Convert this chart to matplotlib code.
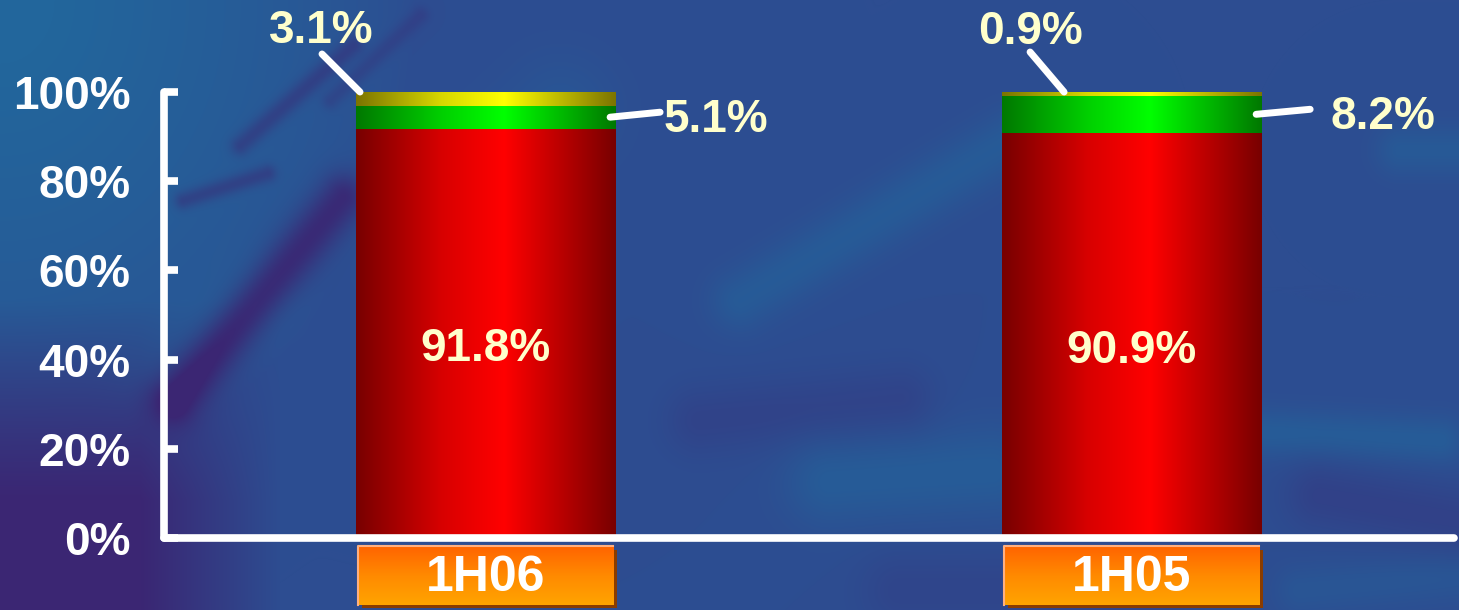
import numpy as np
import matplotlib
matplotlib.use("Agg")
import matplotlib.pyplot as plt
from matplotlib.colors import LinearSegmentedColormap, to_rgb
from matplotlib.patches import Rectangle

# shares of each half-year, stacked bottom to top
periods = ["1H06", "1H05"]
share_main = [91.8, 90.9]
share_mid = [5.1, 8.2]
share_top = [3.1, 0.9]
y_ticks = [0, 20, 40, 60, 80, 100]
y_tick_labels = ["0%", "20%", "40%", "60%", "80%", "100%"]

plt.rcParams["font.family"] = ["Liberation Sans", "DejaVu Sans"]
plt.rcParams["font.weight"] = "bold"

W, H, DPI = 1459, 610, 100
fig = plt.figure(figsize=(W / DPI, H / DPI), dpi=DPI)

# textured blue backdrop built from soft streaks
bg = fig.add_axes([0, 0, 1, 1], zorder=0)
yy, xx = np.mgrid[0:H, 0:W].astype(float)


def streak(x0, y0, x1, y1, w):
    dx, dy = x1 - x0, y1 - y0
    t = np.clip(((xx - x0) * dx + (yy - y0) * dy) / (dx * dx + dy * dy), 0, 1)
    d = np.hypot(xx - (x0 + t * dx), yy - (y0 + t * dy))
    return np.exp(-(d / w) ** 2)


base = np.array(to_rgb("#2d4d91"))
teal = np.array(to_rgb("#22669c"))
purple = np.array(to_rgb("#3b2673"))

w_teal = np.clip(1.15 - np.hypot(xx / 360, yy / 420), 0, 1) ** 0.7
w_teal = w_teal + 0.55 * streak(740, 300, 1010, 140, 30) + 0.6 * streak(830, 480, 990, 470, 45)
w_teal += 0.6 * streak(1265, 432, 1440, 440, 24) + 0.5 * streak(1400, 150, 1470, 150, 25)
w_teal += 0.35 * streak(420, 240, 560, 110, 55) + 0.35 * streak(1300, 590, 1459, 575, 25)
w_teal += 0.3 * streak(150, 380, 260, 300, 40)
w_teal = np.clip(w_teal, 0, 1)

w_purp = 0.9 * streak(175, 400, 343, 197, 24) + 0.45 * streak(183, 200, 267, 173, 9)
w_purp += 0.45 * streak(240, 145, 353, 45, 10) + 0.3 * streak(330, 100, 420, 15, 9)
w_purp += np.clip((yy - 300) / 200, 0, 1) * np.clip((280 - xx) / 140, 0, 1)
w_purp += 0.25 * streak(700, 420, 900, 400, 35) + 0.3 * streak(1320, 495, 1459, 520, 35)
w_purp += 0.2 * streak(900, 590, 1150, 590, 40)
w_purp = np.clip(w_purp, 0, 1)

img = base * (1 - w_teal[..., None]) + teal * w_teal[..., None]
img = img * (1 - w_purp[..., None]) + purple * w_purp[..., None]
bg.imshow(img, aspect="auto", interpolation="bilinear")
bg.axis("off")

ax = fig.add_axes([164 / W, 72 / H, (1454 - 164) / W, (538 - 92) / H], zorder=1)
ax.patch.set_alpha(0)

x = np.arange(len(periods))
width = 0.401
xlim = (-0.4977, 1.499)
unit = 646  # pixels per category step


def shaded(dark, mid, bright):
    return LinearSegmentedColormap.from_list(
        "s", [(0, dark), (0.33, mid), (0.57, bright), (1, dark)])


cmaps = [shaded("#780000", "#d80000", "#ff0000"),
         shaded("#007800", "#00d000", "#00ff00"),
         shaded("#7c7400", "#d8d800", "#ffff00")]
ramp = np.linspace(0, 1, 256)[None, :]

for i in range(len(periods)):
    bottom = 0
    for vals, cm in zip([share_main, share_mid, share_top], cmaps):
        ax.imshow(ramp, cmap=cm, aspect="auto", interpolation="bilinear",
                  extent=[x[i] - width / 2, x[i] + width / 2, bottom, bottom + vals[i]],
                  zorder=2)
        bottom += vals[i]

label_color = "#ffffcc"
fs = 33
px = 0.72  # points per pixel

# value inside the large segment
for i in range(len(periods)):
    ax.annotate(f"{share_main[i]}%", (x[i], share_main[i] / 2), xytext=(0, -11),
                textcoords="offset points", ha="center", va="center",
                color=label_color, fontsize=fs, fontweight="bold", zorder=4)

# leader lines and labels for the thin segments (offsets in pixels)
top_layout = [(4, (-38, 38), (-39, 61)), (62, (-34, 40), (-34, 60))]
mid_layout = [(-5, (50, 5), (53, -3)), (-5, (54, 5), (74, -3))]
for i in range(len(periods)):
    total = share_main[i] + share_mid[i] + share_top[i]
    shift, line_off, text_off = top_layout[i]
    anchor = (x[i] - width / 2 + shift / unit, total)
    ax.annotate("", anchor, xytext=(line_off[0] * px, line_off[1] * px),
                textcoords="offset points",
                arrowprops=dict(arrowstyle="-", color="white", lw=5,
                                shrinkA=0, shrinkB=0), zorder=3)
    ax.annotate(f"{share_top[i]}%", anchor, xytext=(text_off[0] * px, text_off[1] * px),
                textcoords="offset points", ha="center", va="center",
                color=label_color, fontsize=fs, fontweight="bold", zorder=4)

    shift, line_off, text_off = mid_layout[i]
    anchor = (x[i] + width / 2 + shift / unit, share_main[i] + share_mid[i] / 2)
    ax.annotate("", anchor, xytext=(line_off[0] * px, line_off[1] * px),
                textcoords="offset points",
                arrowprops=dict(arrowstyle="-", color="white", lw=5,
                                shrinkA=0, shrinkB=0), zorder=3)
    ax.annotate(f"{share_mid[i]}%", anchor, xytext=(text_off[0] * px, text_off[1] * px),
                textcoords="offset points", ha="left", va="center",
                color=label_color, fontsize=fs, fontweight="bold", zorder=4)

# orange category tags under the axis
orange = LinearSegmentedColormap.from_list("o", ["#ff6400", "#ff8a00", "#ffa400"])
tag_top, tag_bot = -1.8, -15.0
for i, name in enumerate(periods):
    left, right = x[i] - width / 2 + 0.003, x[i] + width / 2 - 0.003
    sh = Rectangle((left + 0.006, tag_bot - 0.8), right - left, tag_top - tag_bot,
                   facecolor="#8a3c00", edgecolor="none", clip_on=False, zorder=2)
    ax.add_patch(sh)
    im = ax.imshow(np.linspace(0, 1, 64)[:, None], cmap=orange, aspect="auto",
                   extent=[left, right, tag_bot, tag_top], zorder=3)
    im.set_clip_on(False)
    ax.plot([left, left, right], [tag_bot, tag_top, tag_top], color="#ffb080",
            lw=1.5, clip_on=False, zorder=4)
    ax.annotate(name, (x[i], (tag_top + tag_bot) / 2), xytext=(0, -2),
                textcoords="offset points", ha="center", va="center",
                color="white", fontsize=36, fontweight="bold", zorder=5,
                annotation_clip=False)

ax.set_xlim(*xlim)
ax.set_ylim(0, 100)

for side in ["top", "right"]:
    ax.spines[side].set_visible(False)
for side in ["left", "bottom"]:
    ax.spines[side].set_color("white")
    ax.spines[side].set_linewidth(5.5)
    ax.spines[side].set_capstyle("round")
ax.set_xticks([])
ax.set_yticks(y_ticks)
ax.set_yticklabels(y_tick_labels)
ax.tick_params(axis="y", direction="in", length=10, width=5.5, color="white",
               labelcolor="white", labelsize=33, pad=24)
for lab in ax.get_yticklabels():
    lab.set_fontweight("bold")

fig.savefig("out.png", dpi=DPI)
